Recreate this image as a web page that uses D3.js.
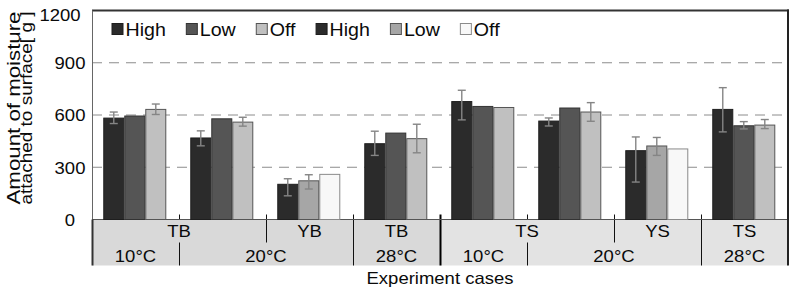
<!DOCTYPE html>
<html>
<head>
<meta charset="utf-8">
<script src="https://cdn.jsdelivr.net/npm/d3@7"></script>
<style>
  html, body { margin: 0; padding: 0; background: #fff; }
  svg { display: block; font-family: "Liberation Sans", Arial, sans-serif; }
</style>
</head>
<body>
<svg id="chart" width="791" height="290"></svg>
<script>
// ---------------- data ----------------
const cases = ["TB-10", "TB-20", "YB-20", "TB-28", "TS-10", "TS-20", "YS-20", "TS-28"];
const material = ["TB", "TB", "YB", "TB", "TS", "TS", "YS", "TS"];
const temperature = ["10°C", "20°C", "20°C", "28°C", "10°C", "20°C", "20°C", "28°C"];
const family = ["B", "B", "B", "B", "S", "S", "S", "S"];

const seriesNames = ["High", "Low", "Off", "High", "Low", "Off"];
// set 1 (T materials)
const high1 = [585, 471, null, 438, 680, 568, null, 635];
const low1  = [597, 581, null, 499, 652, 643, null, 541];
const off1  = [635, 562, null, 467, 646, 620, null, 545];
// set 2 (Y materials)
const high2 = [null, null, 205, null, null, null, 398, null];
const low2  = [null, null, 225, null, null, null, 425, null];
const off2  = [null, null, 262, null, null, null, 408, null];
// error bars: [lower, upper] per case (null = none)
const high1Err = [[551, 617], [423, 509], null, [368, 507], [572, 742], [537, 583], null, [503, 757]];
const low1Err  = [null, null, null, null, null, null, null, [520, 562]];
const off1Err  = [[603, 663], [536, 587], null, [383, 547], null, [564, 671], null, [522, 574]];
const high2Err = [null, null, [136, 234], null, null, null, [215, 474], null];
const low2Err  = [null, null, [175, 257], null, null, null, [368, 471], null];
const off2Err  = [null, null, null, null, null, null, null, null];

const yTicks = [0, 300, 600, 900, 1200];
const yTitle = ["Amount of moisture", "attached to surface[ g ]"];
const xTitle = "Experiment cases";

// ---------------- styles ----------------
const fills = ["#2b2b2b", "#555555", "#c0c0c0", "#2b2b2b", "#a6a6a6", "#f8f8f8"];
const strokes = ["#1e1e1e", "#333333", "#555555", "#1e1e1e", "#555555", "#8a8a8a"];
const STRETCH = 1.12;
const TXT = "#0a0a0a";

const series = [
  { name: seriesNames[0], values: high1, err: high1Err, pos: 0, fill: fills[0], stroke: strokes[0] },
  { name: seriesNames[1], values: low1,  err: low1Err,  pos: 1, fill: fills[1], stroke: strokes[1] },
  { name: seriesNames[2], values: off1,  err: off1Err,  pos: 2, fill: fills[2], stroke: strokes[2] },
  { name: seriesNames[3], values: high2, err: high2Err, pos: 0, fill: fills[3], stroke: strokes[3] },
  { name: seriesNames[4], values: low2,  err: low2Err,  pos: 1, fill: fills[4], stroke: strokes[4] },
  { name: seriesNames[5], values: off2,  err: off2Err,  pos: 2, fill: fills[5], stroke: strokes[5] }
];

const svg = d3.select("#chart");
const PL = 92, PR = 788, PT = 10.5, BASE = 219.5, BAND_B = 265.5, ROW_MID = 242.5;

function stretch(sel, f) {
  sel.each(function () {
    const L = this.getComputedTextLength();
    d3.select(this).attr("textLength", L * f).attr("lengthAdjust", "spacingAndGlyphs");
  });
}

const x = d3.scaleBand().domain(cases).range([PL, PR]).paddingInner(0).paddingOuter(0);
const xi = d3.scaleBand().domain([0, 1, 2]).range([0, x.bandwidth()]).paddingInner(0).paddingOuter(0.571).align(0.47);
const y = d3.scaleLinear().domain([0, 1200]).range([BASE, PT]);

// ---------------- gridlines ----------------
svg.append("g").selectAll("line")
  .data(yTicks.filter(t => t > 0 && t < 1200))
  .join("line")
  .attr("x1", PL).attr("x2", PR)
  .attr("y1", d => y(d)).attr("y2", d => y(d))
  .attr("stroke", "#8c8c8c").attr("stroke-width", 1)
  .attr("stroke-dasharray", "10,7");

// ---------------- y axis labels ----------------
const yAxis = d3.axisLeft(y).tickValues(yTicks).tickFormat(d3.format("d")).tickSize(0).tickPadding(0);
const yg = svg.append("g").attr("transform", `translate(${PL},0)`).call(yAxis);
yg.select(".domain").remove();
yg.selectAll("text")
  .attr("x", -22).attr("text-anchor", "middle")
  .attr("font-size", 16.5).attr("fill", TXT)
  .attr("font-family", "Liberation Sans, Arial, sans-serif")
  .attr("dy", d => d === 1200 ? "0.6em" : "0.35em")
  .attr("dx", d => d === 1200 ? -10 : 0);
stretch(yg.selectAll("text"), STRETCH);

// ---------------- category band ----------------
const band = svg.append("g");
function spans(arr) {
  const out = [];
  arr.forEach((v, i) => {
    if (i === 0 || arr[i - 1] !== v) out.push({ label: v, start: i, end: i });
    else out[out.length - 1].end = i;
  });
  return out;
}
const famColors = ["#d9d9d9", "#e3e3e3"];
band.selectAll("rect.bg").data(spans(family)).join("rect")
  .attr("class", "bg")
  .attr("x", d => x(cases[d.start]))
  .attr("width", d => x(cases[d.end]) + x.bandwidth() - x(cases[d.start]))
  .attr("y", BASE).attr("height", BAND_B - BASE)
  .attr("fill", (d, i) => famColors[i]);

// baseline
svg.append("line").attr("x1", PL).attr("x2", PR).attr("y1", BASE).attr("y2", BASE)
  .attr("stroke", "#555").attr("stroke-width", 1);

// separators
const sepG = band.append("g");
for (let i = 1; i < cases.length; i++) {
  const matDiff = material[i] !== material[i - 1];
  const tempDiff = temperature[i] !== temperature[i - 1];
  const famDiff = family[i] !== family[i - 1];
  const xx = Math.round(x(cases[i])) + 0.5;
  const col = famDiff ? "#000" : "#111";
  const sw = famDiff ? 2 : 1;
  const seg = (a, b) => sepG.append("line").attr("x1", xx).attr("x2", xx).attr("y1", a).attr("y2", b)
    .attr("stroke", col).attr("stroke-width", sw);
  if (matDiff && tempDiff) seg(BASE - 5, BAND_B);
  else if (matDiff) seg(BASE - 5, ROW_MID);
  else { seg(BASE - 5, BASE); seg(ROW_MID, BAND_B); }
}

const matLabels = band.selectAll("text.mat").data(spans(material)).join("text")
  .attr("class", "mat")
  .attr("x", d => (x(cases[d.start]) + x(cases[d.end]) + x.bandwidth()) / 2)
  .attr("y", 237).attr("text-anchor", "middle")
  .attr("font-size", 16.5).attr("fill", TXT)
  .text(d => d.label);
stretch(matLabels, STRETCH);
const tempLabels = band.selectAll("text.temp").data(spans(temperature)).join("text")
  .attr("class", "temp")
  .attr("x", d => (x(cases[d.start]) + x(cases[d.end]) + x.bandwidth()) / 2)
  .attr("y", 262).attr("text-anchor", "middle")
  .attr("font-size", 16.5).attr("fill", TXT)
  .text(d => d.label);
stretch(tempLabels, STRETCH);

// ---------------- bars ----------------
const barsG = svg.append("g");
series.forEach(s => {
  const data = cases.map((c, i) => ({ c, v: s.values[i], e: s.err[i] })).filter(d => d.v != null);
  barsG.append("g").selectAll("rect").data(data).join("rect")
    .attr("x", d => x(d.c) + xi(s.pos) + 0.5)
    .attr("width", xi.bandwidth() - 1)
    .attr("y", d => y(d.v) + 0.5)
    .attr("height", d => BASE - y(d.v) - 0.5)
    .attr("fill", s.fill).attr("stroke", s.stroke).attr("stroke-width", 1);
});
// error bars
const errG = svg.append("g").attr("stroke", "#858585").attr("stroke-width", 1.4).attr("fill", "none");
series.forEach(s => {
  const data = cases.map((c, i) => ({ c, v: s.values[i], e: s.err[i] })).filter(d => d.v != null && d.e);
  data.forEach(d => {
    const cx = x(d.c) + xi(s.pos) + xi.bandwidth() / 2;
    errG.append("line").attr("x1", cx).attr("x2", cx).attr("y1", y(d.e[0])).attr("y2", y(d.e[1]));
    errG.append("line").attr("x1", cx - 4).attr("x2", cx + 4).attr("y1", y(d.e[0])).attr("y2", y(d.e[0]));
    errG.append("line").attr("x1", cx - 4).attr("x2", cx + 4).attr("y1", y(d.e[1])).attr("y2", y(d.e[1]));
  });
});

// ---------------- frame ----------------
svg.append("line").attr("x1", PL).attr("x2", PR + 1).attr("y1", PT).attr("y2", PT)
  .attr("stroke", "#333").attr("stroke-width", 2);
svg.append("line").attr("x1", PR).attr("x2", PR).attr("y1", PT - 1).attr("y2", BAND_B)
  .attr("stroke", "#222").attr("stroke-width", 2);
svg.append("line").attr("x1", PL + 0.5).attr("x2", PL + 0.5).attr("y1", PT).attr("y2", BASE)
  .attr("stroke", "#666").attr("stroke-width", 1);
svg.append("line").attr("x1", PL + 0.5).attr("x2", PL + 0.5).attr("y1", BASE).attr("y2", BAND_B)
  .attr("stroke", "#333").attr("stroke-width", 2);

// ---------------- legend ----------------
const legend = svg.append("g");
let lx = 111.5;
const ly = 23.5, sq = 12;
series.forEach(s => {
  legend.append("rect").attr("x", lx + 0.5).attr("y", ly).attr("width", sq - 1).attr("height", sq - 1)
    .attr("fill", s.fill).attr("stroke", s.stroke).attr("stroke-width", 1);
  const t = legend.append("text").attr("x", lx + sq + 2).attr("y", ly + 12)
    .attr("font-size", 17.5).attr("fill", TXT).text(s.name);
  const w = t.node().getComputedTextLength();
  stretch(t, STRETCH);
  lx += sq + 2 + w * STRETCH + 20;
});

// ---------------- titles ----------------
const yt = svg.append("g").attr("transform", `translate(0,108) rotate(-90)`);
yTitle.forEach((line, i) => {
  yt.append("text").attr("x", 0).attr("y", i === 0 ? 20 : 32)
    .attr("text-anchor", "middle").attr("font-size", i === 0 ? 18 : 17).attr("fill", TXT)
    .attr("textLength", 193).attr("lengthAdjust", "spacingAndGlyphs")
    .text(line);
});
const xt = svg.append("text").attr("x", (PL + PR) / 2).attr("y", 284)
  .attr("text-anchor", "middle").attr("font-size", 16.5).attr("fill", TXT).text(xTitle);
stretch(xt, STRETCH);
</script>
</body>
</html>
